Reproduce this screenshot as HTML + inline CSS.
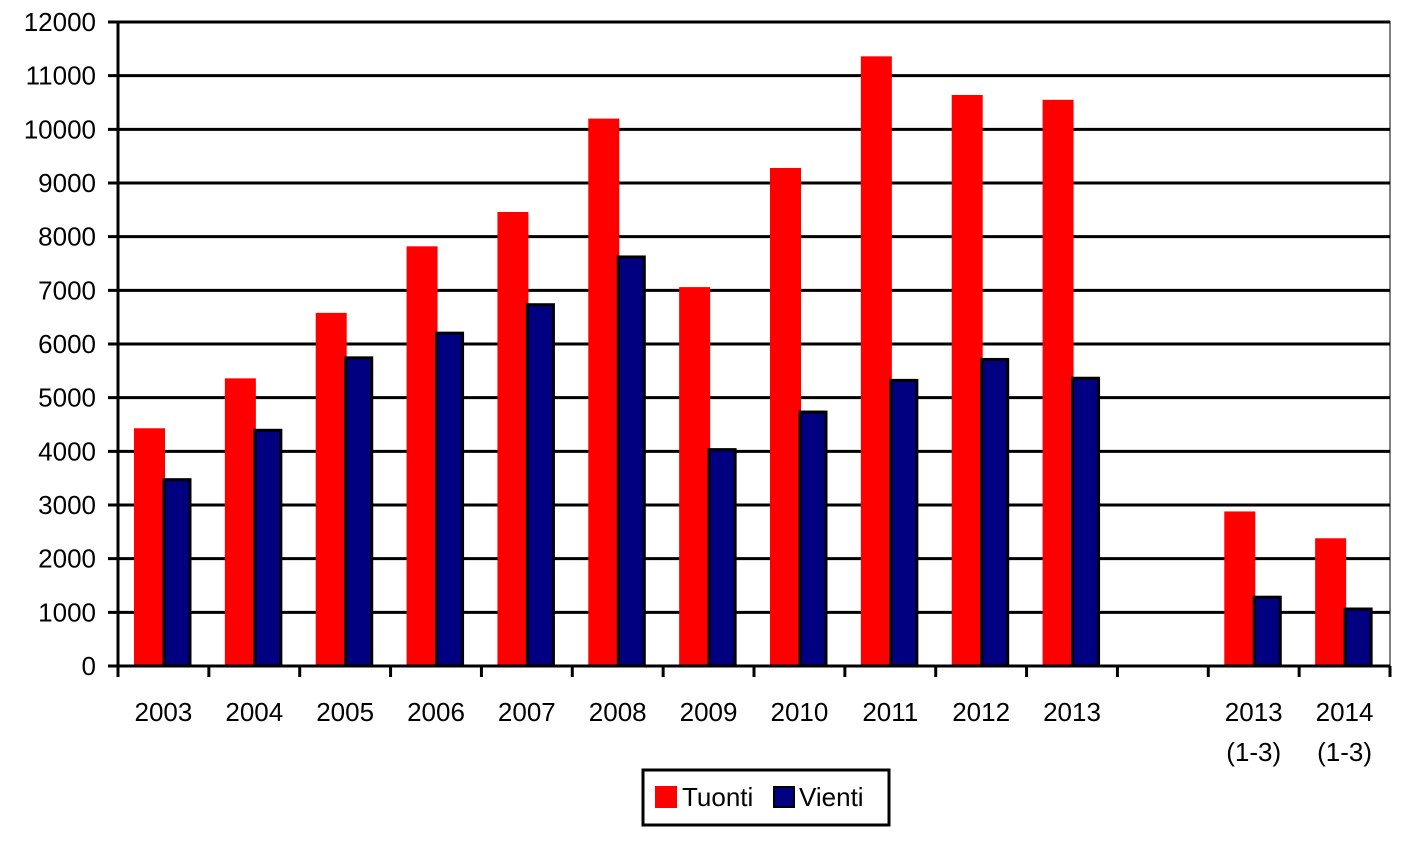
<!DOCTYPE html>
<html><head><meta charset="utf-8"><style>
body{margin:0;background:#fff;}
svg text{font-family:"Liberation Sans",Arial,sans-serif;font-size:26px;fill:#000;}
</style></head><body>
<svg id="chart" width="1415" height="853" viewBox="0 0 1415 853">
<g id="grid"></g>
<g id="bars"></g>
<g id="axes"></g>
<g>
<rect x="643" y="770" width="246" height="55" fill="#fff" stroke="#000" stroke-width="3"/>
<rect x="655" y="786" width="22" height="22" fill="#ff0000"/>
<text x="682" y="806">Tuonti</text>
<rect x="774" y="787" width="20" height="20" fill="#000080" stroke="#000" stroke-width="2"/>
<text x="799" y="806">Vienti</text>
</g>
</svg>
<script>
const categories=["2003","2004","2005","2006","2007","2008","2009","2010","2011","2012","2013","","2013\n(1-3)","2014\n(1-3)"];
const tuonti=[4430,5360,6580,7820,8460,10200,7060,9280,11360,10640,10550,null,2880,2380];
const vienti=[3500,4420,5770,6230,6760,7650,4060,4760,5350,5740,5390,null,1310,1090];
const yTicks=[0,1000,2000,3000,4000,5000,6000,7000,8000,9000,10000,11000,12000];
const NS="http://www.w3.org/2000/svg";
const L=118,R=1390,T=22,B=666,YMAX=12000;
const slot=(R-L)/categories.length;
const y=v=>B-(v/YMAX)*(B-T);
const xs=i=>L+i*slot;
function mk(tag,attrs,parent){const e=document.createElementNS(NS,tag);for(const k in attrs)e.setAttribute(k,attrs[k]);parent.appendChild(e);return e;}
const grid=document.getElementById('grid'),bars=document.getElementById('bars'),axes=document.getElementById('axes');
mk('rect',{x:L,y:T,width:R-L,height:B-T,fill:'none',stroke:'#808080','stroke-width':2},grid);
yTicks.forEach(v=>{
 const ln=mk('line',{x1:L-10,x2:R,y1:y(v),y2:y(v),stroke:'#000','stroke-width':3},grid);
 
 
 const t=mk('text',{x:L-22,y:y(v)+9,'text-anchor':'end'},axes);
 t.textContent=v;
 
 
});
categories.forEach((c,i)=>{
 const x0=xs(i);
 if(tuonti[i]!=null){
  const r=mk('rect',{x:x0+16,y:y(tuonti[i]),width:31,height:B-y(tuonti[i]),fill:'#ff0000'},bars);
  
  
 }
 if(vienti[i]!=null){
  const b=mk('rect',{x:x0+46,y:y(vienti[i])+1.5,width:26,height:B-y(vienti[i])-1.5,fill:'#000080',stroke:'#000','stroke-width':3},bars);
  
  
 }
 const lines=c.split("\n");
 lines.forEach((s,j)=>{
  const t=mk('text',{x:x0+slot/2,y:721+j*40,'text-anchor':'middle'},axes);
  t.textContent=s;
  
  
 });
});
for(let i=0;i<=categories.length;i++){
 mk('line',{x1:xs(i),x2:xs(i),y1:B,y2:B+11,stroke:'#000','stroke-width':3},axes);
}
mk('line',{x1:L,x2:L,y1:T,y2:B+11,stroke:'#000','stroke-width':3},axes);
mk('line',{x1:L,x2:R,y1:B,y2:B,stroke:'#000','stroke-width':3},axes);
</script>
</body></html>
